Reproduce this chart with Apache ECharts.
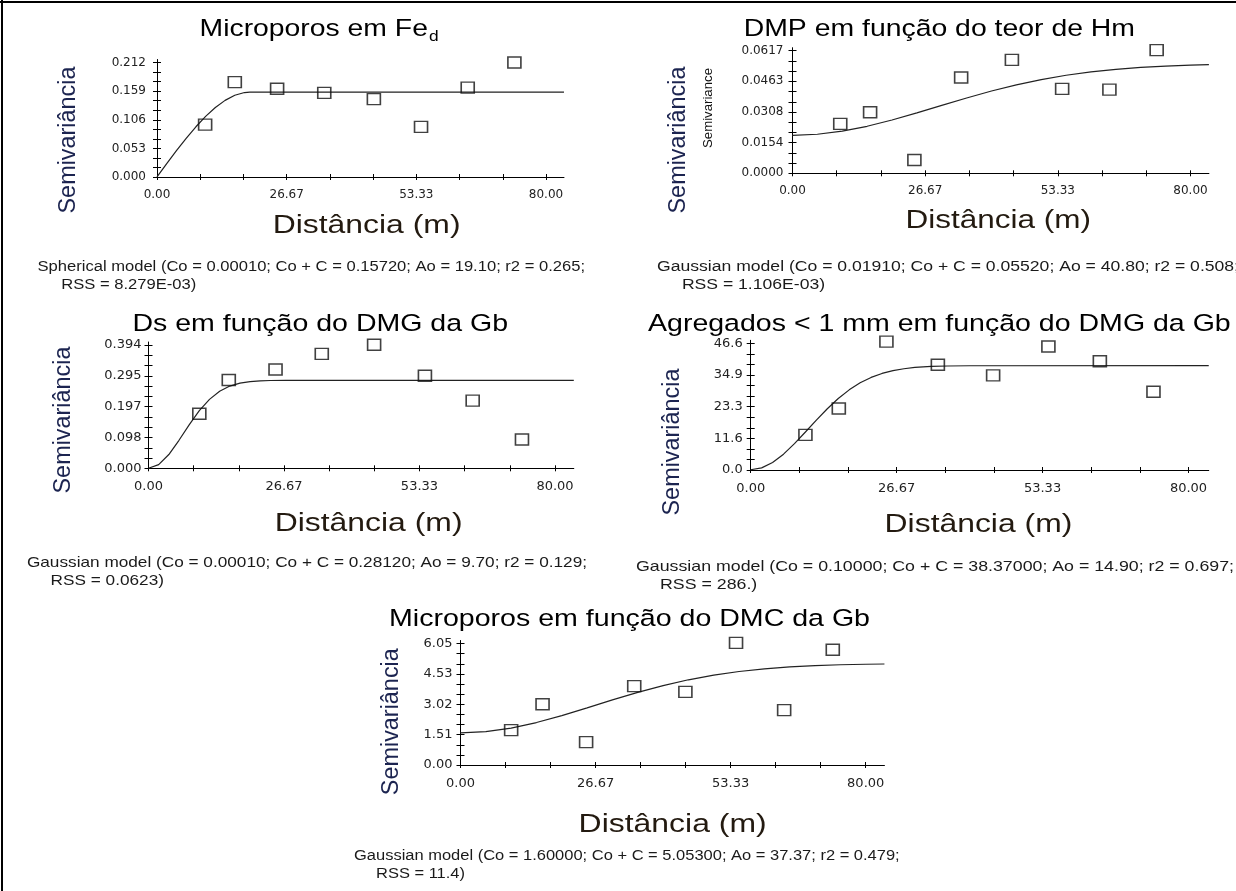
<!DOCTYPE html>
<html><head><meta charset="utf-8">
<script src="https://cdn.jsdelivr.net/npm/echarts@6/dist/echarts.min.js"></script>
<style>html,body{margin:0;padding:0;background:#fff}#c{width:1236px;height:891px}</style>
</head><body><div id="c"></div>
<script>
// ---------------- DATA ----------------
const xTickLabels = ['0.00', '26.67', '53.33', '80.00'];

// Panel 1: Microporos em Fe_d (spherical)
const lag1 = [9.9, 16.0, 24.7, 34.4, 44.6, 54.3, 63.9, 73.5];
const gam1 = [0.0969, 0.1757, 0.1635, 0.1557, 0.1442, 0.0927, 0.1654, 0.2120];
const modH1 = [0, 2, 4, 6, 8, 10, 12, 14, 16, 18, 19.1, 83.7];
const modV1 = [0.0001, 0.0247, 0.0487, 0.0717, 0.0930, 0.1122, 0.1287, 0.1419, 0.1513, 0.1564, 0.1572, 0.1572];
const yLab1 = ['0.000', '0.053', '0.106', '0.159', '0.212'];

// Panel 2: DMP em função do teor de Hm (gaussian)
const lag2 = [9.6, 15.6, 24.5, 33.9, 44.1, 54.2, 63.7, 73.2];
const gam2 = [0.0249, 0.0307, 0.0067, 0.0482, 0.0571, 0.0425, 0.0421, 0.0620];
const modH2 = [0, 5, 10, 15, 20, 25, 30, 35, 40, 45, 50, 55, 60, 65, 70, 75, 80, 83.7];
const modV2 = [0.0191, 0.01964, 0.02121, 0.02366, 0.02681, 0.0304, 0.03418, 0.0379, 0.0414, 0.0445, 0.04716, 0.04933, 0.05105, 0.05235, 0.0533, 0.05397, 0.05443, 0.05467];
const yLab2 = ['0.0000', '0.0154', '0.0308', '0.0463', '0.0617'];

// Panel 3: Ds em função do DMG da Gb (gaussian)
const lag3 = [10.0, 15.8, 25.0, 34.1, 44.4, 54.4, 63.8, 73.5];
const gam3 = [0.1745, 0.2822, 0.3156, 0.3658, 0.3950, 0.2958, 0.2163, 0.0920];
const modH3 = [0, 2, 4, 6, 8, 10, 12, 14, 16, 18, 20, 22, 24, 27, 83.7];
const modV3 = [0.0001, 0.0118, 0.0440, 0.0895, 0.1388, 0.1841, 0.2203, 0.2462, 0.2627, 0.2722, 0.2772, 0.2796, 0.2806, 0.2811, 0.2812];
const yLab3 = ['0.000', '0.098', '0.197', '0.295', '0.394'];

// Panel 4: Agregados < 1 mm em função do DMG da Gb (gaussian)
const lag4 = [10.0, 16.1, 24.8, 34.2, 44.3, 54.4, 63.8, 73.6];
const gam4 = [12.9, 22.6, 47.2, 38.7, 34.8, 45.4, 40.0, 28.8];
const modH4 = [0, 2, 4, 6, 8, 10, 12, 14, 16, 18, 20, 22, 24, 26, 28, 30, 33, 36, 40, 83.7];
const modV4 = [0.1, 0.785, 2.76, 5.83, 9.68, 13.98, 18.36, 22.54, 26.29, 29.48, 32.06, 34.05, 35.51, 36.55, 37.25, 37.71, 38.1, 38.26, 38.34, 38.37];
const yLab4 = ['0.0', '11.6', '23.3', '34.9', '46.6'];

// Panel 5: Microporos em função do DMC da Gb (gaussian)
const lag5 = [10.0, 16.2, 24.8, 34.3, 44.4, 54.4, 63.9, 73.5];
const gam5 = [1.736, 3.025, 1.14, 3.93, 3.64, 6.08, 2.73, 5.74];
const modH5 = [0, 5, 10, 15, 20, 25, 30, 35, 40, 45, 50, 55, 60, 65, 70, 75, 80, 83.7];
const modV5 = [1.6, 1.661, 1.839, 2.114, 2.460, 2.846, 3.240, 3.617, 3.955, 4.243, 4.477, 4.657, 4.791, 4.886, 4.950, 4.992, 5.018, 5.030];
const yLab5 = ['0.00', '1.51', '3.02', '4.53', '6.05'];

const titles = ['Microporos em Fe', 'DMP em função do teor de Hm', 'Ds em função do DMG da Gb', 'Agregados < 1 mm em função do DMG da Gb', 'Microporos em função do DMC da Gb'];
const titleSub = ['d', '', '', '', ''];
const yName = 'Semivariância';
const xName = 'Distância (m)';
const caption1 = [
  'Spherical model (Co = 0.00010; Co + C = 0.15720; Ao = 19.10; r2 = 0.265;',
  'Gaussian model (Co = 0.01910; Co + C = 0.05520; Ao = 40.80; r2 = 0.508;',
  'Gaussian model (Co = 0.00010; Co + C = 0.28120; Ao = 9.70; r2 = 0.129;',
  'Gaussian model (Co = 0.10000; Co + C = 38.37000; Ao = 14.90; r2 = 0.697;',
  'Gaussian model (Co = 1.60000; Co + C = 5.05300; Ao = 37.37; r2 = 0.479;'
];
const caption2 = ['RSS = 8.279E-03)', 'RSS = 1.106E-03)', 'RSS = 0.0623)', 'RSS = 286.)', 'RSS = 11.4)'];

const PANELS = [
  {lag: lag1, gam: gam1, mh: modH1, mv: modV1, yl: yLab1},
  {lag: lag2, gam: gam2, mh: modH2, mv: modV2, yl: yLab2},
  {lag: lag3, gam: gam3, mh: modH3, mv: modV3, yl: yLab3},
  {lag: lag4, gam: gam4, mh: modH4, mv: modV4, yl: yLab4},
  {lag: lag5, gam: gam5, mh: modH5, mv: modV5, yl: yLab5}
];

// ---------------- LAYOUT ----------------
const XMAX = 83.7;
const LAYOUT = [
  {left: 157, bottom: 177, yTop: 62.5, x80: 546, tf: 12, ym: 11,
   title: [199.6, 438.7, 29.5], yn: [69, 140], xn: [272.7, 460.5, 225.8],
   cap: [37.5, 585, 266.7, 61.3, 285, 14]},
  {left: 792.5, bottom: 173.3, yTop: 50.7, x80: 1190.5, tf: 12, ym: 9,
   title: [743.7, 1135, 29.5], yn: [679, 140], xn: [905.4, 1091, 220.8],
   cap: [657, 1239, 266.7, 681.9, 285, 14]},
  {left: 148.5, bottom: 468.3, yTop: 345, x80: 555, tf: 13, ym: 7,
   title: [132.4, 508, 324.2], yn: [64, 420], xn: [274.7, 462.5, 524.2],
   cap: [26.9, 587, 563.3, 50.6, 581, 14.5]},
  {left: 750.7, bottom: 470, yTop: 343.3, x80: 1188.5, tf: 13, ym: 8,
   title: [648, 1230.7, 324.2], yn: [673, 442], xn: [884.6, 1072.3, 525.2],
   cap: [636, 1234, 566.7, 660, 585, 14.5]},
  {left: 460.5, bottom: 765, yTop: 643.5, x80: 865.7, tf: 13, ym: 8,
   title: [389, 870, 619.2], yn: [391.7, 721.7], xn: [578.6, 766.6, 825.2],
   cap: [354, 899.7, 856, 376, 874, 14]}
];

const FF = "'Liberation Sans', Arial, sans-serif";
const TF = "'DejaVu Sans', sans-serif";
const mctx = document.createElement('canvas').getContext('2d');
function tw(text, font) { mctx.font = font; return mctx.measureText(text).width; }
function mkText(text, x, y, font, fill, s, align, rot) {
  return {type: 'text', x: x, y: y, scaleX: s || 1, rotation: rot || 0, silent: true, z: 10,
    style: {text: text, font: font, fill: fill, align: align || 'left', textAlign: align || 'left',
            verticalAlign: 'middle', textVerticalAlign: 'middle'}};
}
function nearestIdx(arr, v) {
  let b = 0; for (let k = 1; k < arr.length; k++) if (Math.abs(arr[k] - v) < Math.abs(arr[b] - v)) b = k; return b;
}

const grids = [], xAxes = [], yAxes = [], series = [], gfx = [];
const xLabVals = xTickLabels.map(Number);
const xTicks = []; for (let k = 0; k <= 9; k++) xTicks.push(80 * k / 9);

PANELS.forEach(function (P, i) {
  const L = LAYOUT[i];
  const ppu = (L.x80 - L.left) / 80;
  const yLabVals = P.yl.map(Number);
  const topVal = yLabVals[yLabVals.length - 1];
  const hLab = L.bottom - L.yTop;
  const ext = 3;
  const yMax = topVal * (hLab + ext) / hLab;
  grids.push({left: L.left, top: L.yTop - ext, width: XMAX * ppu, height: hLab + ext, containLabel: false, outerBoundsMode: 'none'});
  const yTicks = []; for (let k = 0; k <= 12; k++) yTicks.push(topVal * k / 12);
  const lineSt = {color: '#000', width: 1};
  xAxes.push({gridIndex: i, type: 'value', min: 0, max: XMAX, position: 'bottom',
    axisLine: {show: true, onZero: false, lineStyle: lineSt},
    axisTick: {show: true, inside: false, length: 3, customValues: xTicks, lineStyle: lineSt},
    axisLabel: {show: true, customValues: xLabVals, margin: 12, fontFamily: TF, fontSize: L.tf, color: '#222',
      formatter: function (v) { return xTickLabels[nearestIdx(xLabVals, v)]; }},
    splitLine: {show: false}});
  xAxes.push({gridIndex: i, type: 'value', min: 0, max: XMAX, position: 'bottom',
    axisLine: {show: false, onZero: false},
    axisTick: {show: true, inside: true, length: 3, customValues: xTicks, lineStyle: lineSt},
    axisLabel: {show: false}, splitLine: {show: false}});
  yAxes.push({gridIndex: i, type: 'value', min: 0, max: yMax, position: 'left',
    axisLine: {show: true, onZero: false, lineStyle: lineSt},
    axisTick: {show: true, inside: false, length: 4, customValues: yTicks, lineStyle: lineSt},
    axisLabel: {show: true, customValues: yLabVals, margin: L.ym, fontFamily: TF, fontSize: L.tf, color: '#222',
      formatter: function (v) { return P.yl[nearestIdx(yLabVals, v)]; }},
    splitLine: {show: false}});
  yAxes.push({gridIndex: i, type: 'value', min: 0, max: yMax, position: 'left',
    axisLine: {show: false, onZero: false},
    axisTick: {show: true, inside: true, length: 4, customValues: yTicks, lineStyle: lineSt},
    axisLabel: {show: false}, splitLine: {show: false}});

  series.push({type: 'line', xAxisIndex: 2 * i, yAxisIndex: 2 * i,
    data: P.mh.map(function (h, j) { return [h, P.mv[j]]; }),
    symbol: 'none', showSymbol: false, smooth: false, clip: false, silent: true,
    lineStyle: {color: '#222', width: 1.2}, z: 2});
  series.push({type: 'scatter', xAxisIndex: 2 * i, yAxisIndex: 2 * i,
    data: P.lag.map(function (x, j) { return [x, P.gam[j]]; }),
    symbol: 'rect', symbolSize: [13, 11], clip: false, silent: true,
    itemStyle: {color: 'rgba(0,0,0,0)', borderColor: '#111', borderWidth: 1.5}, z: 3});

  // title
  const tFont = '24.5px ' + FF, sFont = '15px ' + FF;
  const wMain = tw(titles[i], tFont), wSub = titleSub[i] ? tw(titleSub[i], sFont) + 1 : 0;
  const ts = (L.title[1] - L.title[0]) / (wMain + wSub);
  gfx.push(mkText(titles[i], L.title[0], L.title[2], tFont, '#000', ts));
  if (titleSub[i]) gfx.push(mkText(titleSub[i], L.title[0] + ts * (wMain + 1), L.title[2] + 7, sFont, '#000', ts));

  // y name (vertical)
  const ySize = 147 / (tw(yName, '100px ' + FF) / 100);
  gfx.push(mkText(yName, L.yn[0], L.yn[1], ySize.toFixed(2) + 'px ' + FF, '#1c2450', 1, 'center', Math.PI / 2));

  // x name
  const xFont = '26px ' + FF;
  const xs = (L.xn[1] - L.xn[0]) / tw(xName, xFont);
  gfx.push(mkText(xName, L.xn[0], L.xn[2], xFont, '#231a10', xs));

  // captions
  const cFont = L.cap[5] + 'px ' + FF;
  const cs = (L.cap[1] - L.cap[0]) / tw(caption1[i], cFont);
  gfx.push(mkText(caption1[i], L.cap[0], L.cap[2], cFont, '#1a1a1a', cs));
  gfx.push(mkText(caption2[i], L.cap[3], L.cap[4], cFont, '#1a1a1a', cs));
});

// extra small label in panel 2
const smallLbl = 'Semivariance';
const smSize = 80 / (tw(smallLbl, '100px ' + FF) / 100);
gfx.push(mkText(smallLbl, 708.6, 108, smSize.toFixed(2) + 'px ' + FF, '#111', 1, 'center', Math.PI / 2));

// frame lines (top and left)
gfx.push({type: 'line', silent: true, z: 10, shape: {x1: 0, y1: 2, x2: 1236, y2: 2}, style: {stroke: '#000', lineWidth: 2}});
gfx.push({type: 'line', silent: true, z: 10, shape: {x1: 2, y1: 0, x2: 2, y2: 891}, style: {stroke: '#000', lineWidth: 2}});

const chart = echarts.init(document.getElementById('c'), null, {renderer: 'canvas', width: 1236, height: 891});
chart.setOption({
  animation: false,
  backgroundColor: '#ffffff',
  grid: grids,
  xAxis: xAxes,
  yAxis: yAxes,
  series: series,
  graphic: {elements: gfx}
});
</script>
</body></html>
